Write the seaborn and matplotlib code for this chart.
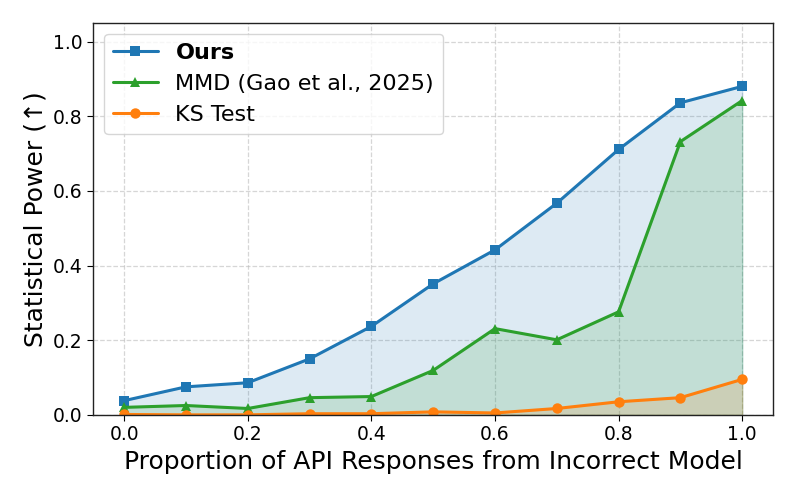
import seaborn as sns
import matplotlib.pyplot as plt
import numpy as np
import pandas as pd

# 資料
proportion = [0.0, 0.1, 0.2, 0.3, 0.4, 0.5, 0.6, 0.7, 0.8, 0.9, 1.0]
ours = [0.038, 0.075, 0.086, 0.150, 0.237, 0.351, 0.442, 0.567, 0.711, 0.836, 0.880]
mmd = [0.020, 0.025, 0.017, 0.046, 0.049, 0.119, 0.231, 0.201, 0.276, 0.732, 0.842]
ks = [0.001, 0.000, 0.000, 0.003, 0.003, 0.008, 0.005, 0.017, 0.035, 0.046, 0.095]

series = [
    ("Ours", ours, "#1f77b4", "s"),
    ("MMD (Gao et al., 2025)", mmd, "#2ca02c", "^"),
    ("KS Test", ks, "#ff7f0e", "o"),
]

df = pd.concat(
    [pd.DataFrame({"x": proportion, "power": v, "method": name}) for name, v, _, _ in series]
)

sns.set_style("white")
plt.rcParams['font.family'] = ['DejaVu Sans']
plt.rcParams['text.color'] = 'black'
plt.rcParams['axes.labelcolor'] = 'black'

fig, ax = plt.subplots(figsize=(7.97, 4.98), dpi=100)

for name, v, color, marker in series:
    sub = df[df["method"] == name]
    sns.lineplot(data=sub, x="x", y="power", color=color, marker=marker,
                 markersize=7.5, linewidth=2.2, markeredgewidth=0, label=name, ax=ax)
    ax.fill_between(sub["x"], 0, sub["power"], color=color, alpha=0.15)

ax.set_xlim(-0.05, 1.05)
ax.set_ylim(0, 1.05)
ax.grid(True, linestyle="--", color="#bbbbbb", alpha=0.6, linewidth=0.9)
for s in ax.spines.values():
    s.set_color("#222222")
    s.set_linewidth(1.0)
ax.tick_params(labelsize=13.5, left=True, bottom=True, length=4, direction="out",
               colors="black")

ax.set_xlabel("Proportion of API Responses from Incorrect Model", fontsize=18)
ax.set_ylabel("Statistical Power (↑)", fontsize=18)

leg = ax.legend(loc="upper left", fontsize=16, frameon=True)
leg.get_texts()[0].set_fontweight("bold")

plt.subplots_adjust(left=0.117, right=0.970, top=0.954, bottom=0.167)
plt.savefig("out.png")
